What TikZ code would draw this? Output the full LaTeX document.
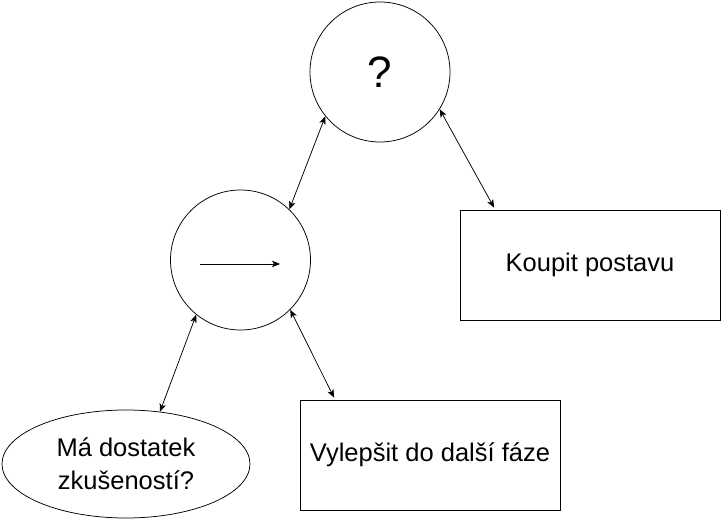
\documentclass[tikz,border=0pt]{standalone}
\usepackage{fontspec}
\setmainfont{Liberation Sans}
\usetikzlibrary{shapes.geometric,arrows.meta,calc}
\tikzset{
  kruh/.style={draw, circle, minimum size=140pt, inner sep=0pt},
  krabice/.style={draw, rectangle, minimum width=260pt, minimum height=110pt, inner sep=0pt,
    font=\fontsize{25.5}{30}\selectfont},
  vejce/.style={draw, ellipse, minimum width=248pt, minimum height=108pt, inner sep=0pt,
    align=center, font=\fontsize{25.5}{33}\selectfont},
  obousmer/.style={{Stealth[length=8pt,width=6.5pt,inset=2pt]}-{Stealth[length=8pt,width=6.5pt,inset=2pt]}},
  smer/.style={-{Stealth[length=8pt,width=6.5pt,inset=2pt]}}
}
\begin{document}
\begin{tikzpicture}[x=1pt, y=-1pt, line width=0.75pt]
  \useasboundingbox (0,0) rectangle (721,521);
  \node[kruh, font=\fontsize{44}{50}\selectfont] (otaz) at (380,72) {?};
  \node[kruh] (sekv) at (240.5,260) {};
  \node[krabice] (koupit) at (590,265) {Koupit postavu};
  \node[krabice] (vylepsit) at (430,455) {Vylepšit do další fáze};
  \node[vejce] (zkus) at (126,464) {Má dostatek\\zkušeností?};
  \coordinate (sipL) at (200,264);
  \coordinate (sipP) at (280,264);
  \draw[smer] (sipL) -- (sipP);
  \draw[obousmer] (otaz.219) -- (sekv.46);
  \draw[obousmer] (otaz.-32) -- ($(koupit.150)+(0,-2)$);
  \draw[obousmer] (sekv.231) -- (zkus.57);
  \draw[obousmer] (sekv.315) -- ($(vylepsit.150)+(0,-2)$);
\end{tikzpicture}
\end{document}
